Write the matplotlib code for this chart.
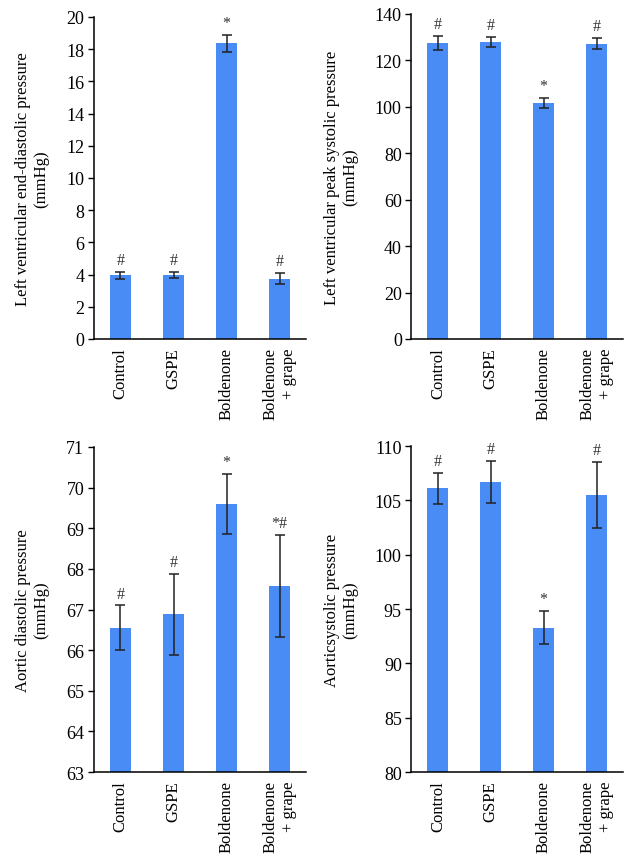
import matplotlib
matplotlib.use("Agg")
import matplotlib.pyplot as plt
import numpy as np

plt.rcParams['font.family'] = ['Liberation Serif', 'DejaVu Serif']
plt.rcParams['font.size'] = 12

groups = ["Control", "GSPE", "Boldenone", "Boldenone\n+ grape"]
bar_color = "#4a8cf5"

# panel data: means, errors, significance marks
lvedp = [3.95, 3.97, 18.35, 3.75]
lvedp_err = [0.22, 0.2, 0.55, 0.35]
lvedp_sig = ["#", "#", "*", "#"]

lvpsp = [127.7, 128.0, 101.8, 127.2]
lvpsp_err = [3.0, 2.3, 2.2, 2.3]
lvpsp_sig = ["#", "#", "*", "#"]

adp = [66.55, 66.88, 69.6, 67.58]
adp_err = [0.55, 1.0, 0.74, 1.25]
adp_sig = ["#", "#", "*", "*#"]

asp = [106.1, 106.7, 93.3, 105.5]
asp_err = [1.45, 1.9, 1.55, 3.0]
asp_sig = ["#", "#", "*", "#"]

panels = [
    (lvedp, lvedp_err, lvedp_sig, (0, 20), np.arange(0, 21, 2),
     "Left ventricular end-diastolic pressure\n(mmHg)",
     [0.148, 0.6056, 0.334, 0.3736]),
    (lvpsp, lvpsp_err, lvpsp_sig, (0, 140), np.arange(0, 141, 20),
     "Left ventricular peak systolic pressure\n(mmHg)",
     [0.648, 0.6056, 0.333, 0.377]),
    (adp, adp_err, adp_sig, (63, 71), np.arange(63, 72, 1),
     "Aortic diastolic pressure\n(mmHg)",
     [0.148, 0.1032, 0.334, 0.3771]),
    (asp, asp_err, asp_sig, (80, 110), np.arange(80, 111, 5),
     "Aorticsystolic pressure\n(mmHg)",
     [0.648, 0.1032, 0.333, 0.3782]),
]

fig = plt.figure(figsize=(6.35, 8.62), dpi=100)

for vals, errs, sig, ylim, yticks, ylabel, pos in panels:
    ax = fig.add_axes(pos)
    x = np.arange(len(groups))
    ax.bar(x, np.array(vals) - ylim[0], bottom=ylim[0], width=0.4, color=bar_color, zorder=2)
    ax.errorbar(x, vals, yerr=errs, fmt='none', ecolor='#222222', elinewidth=1.1,
                capsize=3.5, capthick=1.1, zorder=3)
    span = ylim[1] - ylim[0]
    for xi, v, e, s in zip(x, vals, errs, sig):
        ax.text(xi, v + e + span * 0.012, s, ha='center', va='bottom', fontsize=11.5,
                color='#333333')
    ax.set_xlim(-0.5, 3.5)
    ax.set_ylim(*ylim)
    ax.set_yticks(yticks)
    ax.set_xticks(x)
    ax.set_xticklabels(groups, rotation=90, va='top', ha='center', multialignment='right',
                       fontsize=12)
    ax.tick_params(axis='x', length=0, pad=6)
    ax.tick_params(axis='y', direction='out', length=4, width=1, labelsize=13, pad=3)
    ax.spines['top'].set_visible(False)
    ax.spines['right'].set_visible(False)
    ax.spines['left'].set_linewidth(1.1)
    ax.spines['bottom'].set_linewidth(1.1)
    ax.set_ylabel(ylabel, fontsize=12, labelpad=12)

fig.savefig("out.png", dpi=100)
